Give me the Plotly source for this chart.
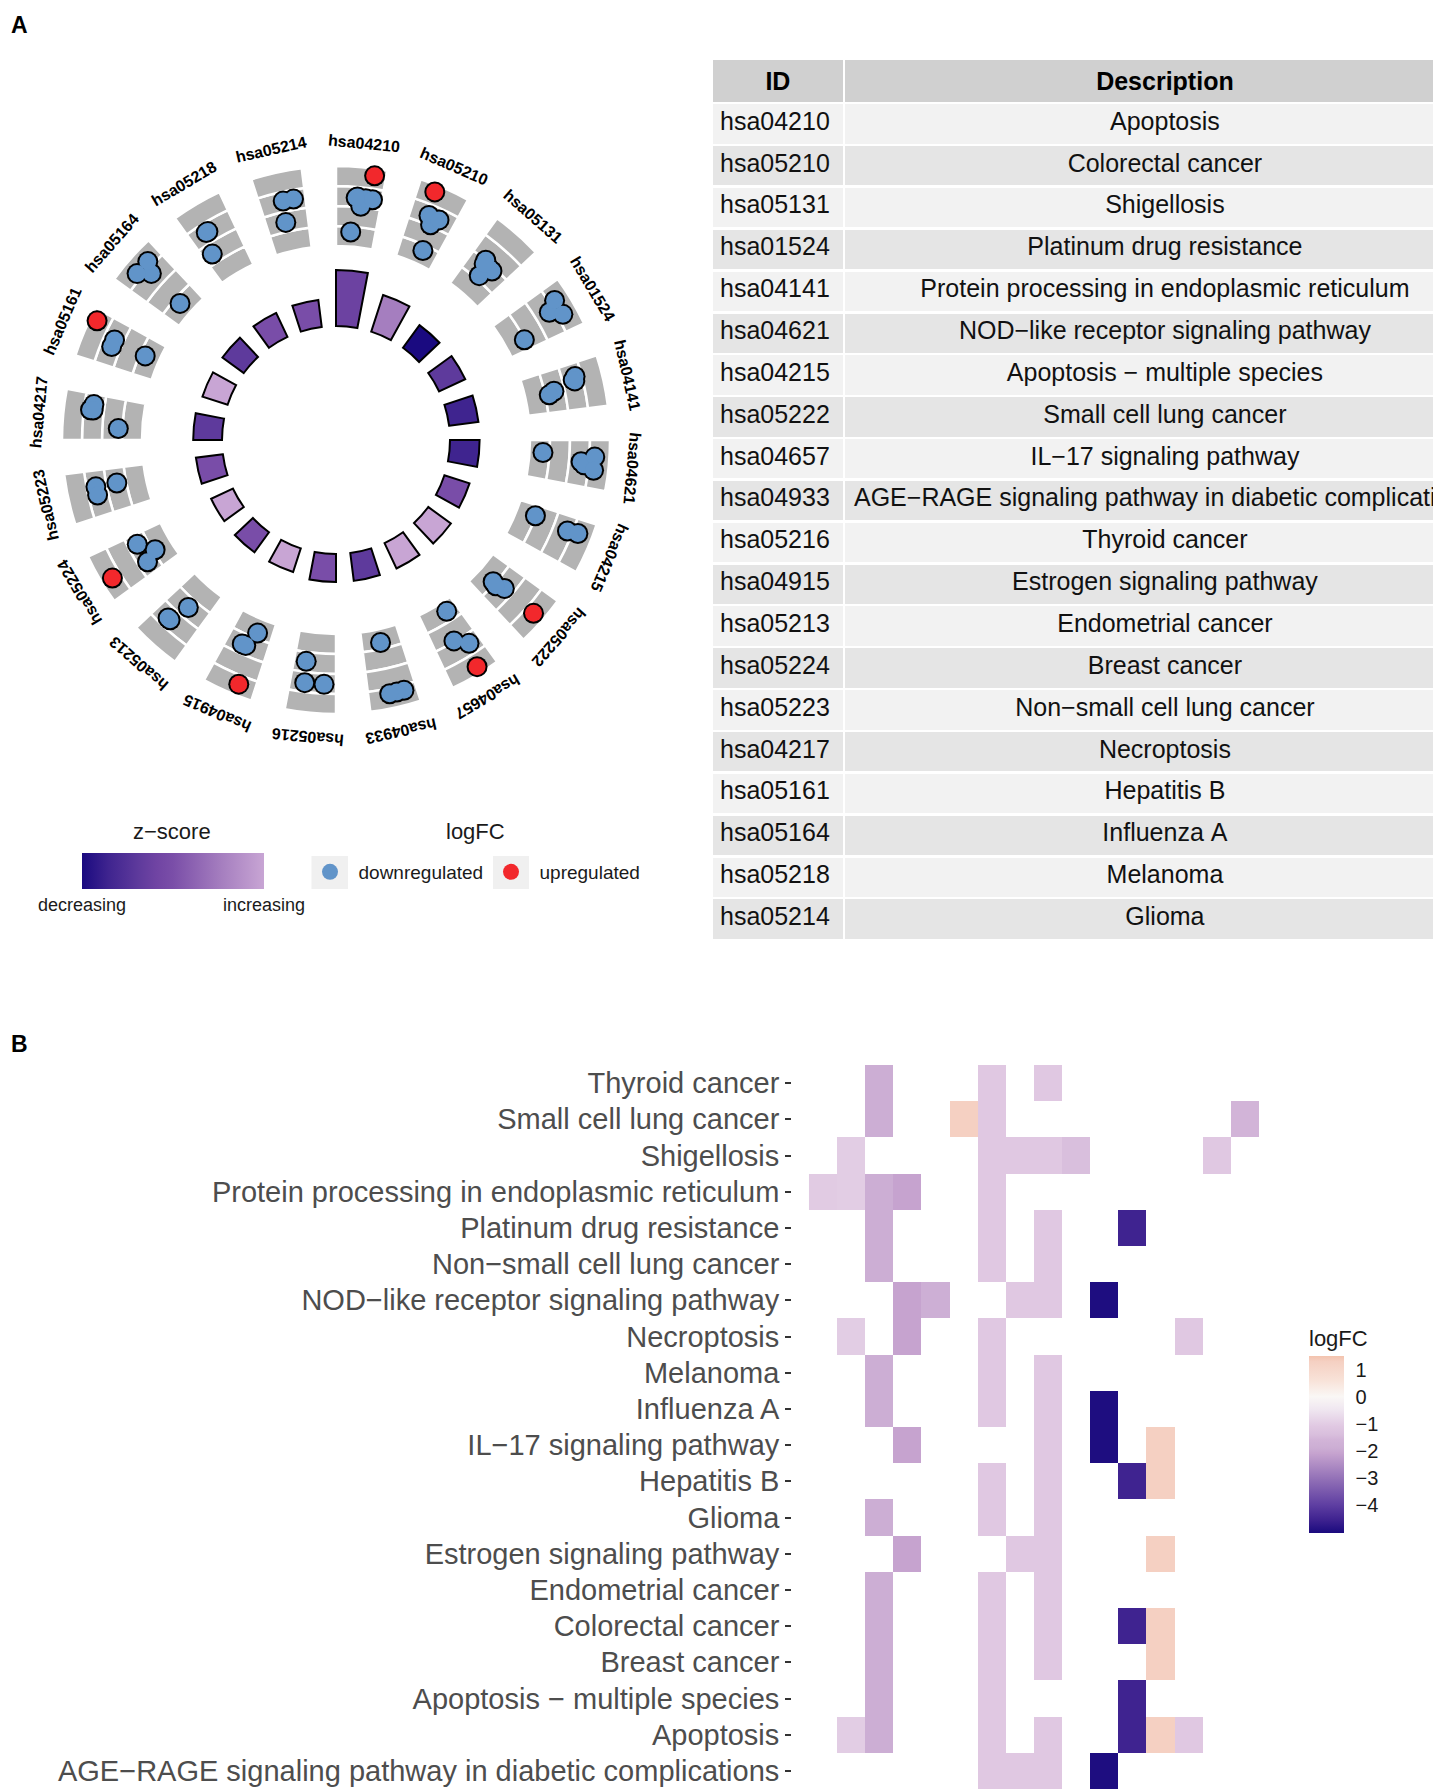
import math
import plotly.graph_objects as go

# figure is drawn in "screen" pixels of the 1441x1789 reference; the page adds an 8px body margin
WF, HF = 1500, 1820
OFF = 8
FONT = "Liberation Sans, Arial, sans-serif"


def sx(x):
    return (x - OFF) / WF


def sy(y):
    return 1 - (y - OFF) / HF


# ---------------- data ----------------
term_ids = ["hsa04210", "hsa05210", "hsa05131", "hsa01524", "hsa04141",
            "hsa04621", "hsa04215", "hsa05222", "hsa04657", "hsa04933",
            "hsa05216", "hsa04915", "hsa05213", "hsa05224", "hsa05223",
            "hsa04217", "hsa05161", "hsa05164", "hsa05218", "hsa05214"]
term_desc = ["Apoptosis", "Colorectal cancer", "Shigellosis",
             "Platinum drug resistance",
             "Protein processing in endoplasmic reticulum",
             "NOD\u2212like receptor signaling pathway",
             "Apoptosis \u2212 multiple species", "Small cell lung cancer",
             "IL\u221217 signaling pathway",
             "AGE\u2212RAGE signaling pathway in diabetic complications",
             "Thyroid cancer", "Estrogen signaling pathway",
             "Endometrial cancer", "Breast cancer",
             "Non\u2212small cell lung cancer", "Necroptosis", "Hepatitis B",
             "Influenza A", "Melanoma", "Glioma"]
# -log10(adjusted p-value) of each term (inner bar height)
neg_log10_padj = [4.6, 2.84, 1.8, 1.88, 1.96, 1.96, 1.64, 1.8, 1.8, 1.8,
                  1.8, 1.48, 1.48, 1.4, 1.72, 1.88, 1.64, 1.64, 1.64, 1.72]

gene_ids = ["G01", "G02", "G03", "G04", "G05", "G06", "G07", "G08",
            "G09", "G10", "G11", "G12", "G13", "G14", "G15", "G16"]
gene_logfc = [-1.05, -1.0, -1.9, -2.1, -1.85, 1.3, -1.1, -1.1,
              -1.1, -1.4, -5.0, -4.55, 1.3, -1.1, -1.1, -1.6]

# genes (index into gene_ids) belonging to each term
term_genes = [[1, 2, 6, 8, 11, 12, 13], [2, 6, 8, 11, 12], [1, 6, 7, 8, 9, 14],
              [2, 6, 8, 11], [0, 1, 2, 3, 6], [3, 4, 7, 8, 10], [2, 6, 11],
              [2, 5, 6, 15], [3, 8, 10, 12], [6, 7, 8, 10], [2, 6, 8],
              [3, 7, 8, 12], [2, 6, 8], [2, 6, 8, 12], [2, 6, 8],
              [1, 3, 6, 13], [6, 8, 11, 12], [2, 6, 8, 10], [2, 6, 8], [2, 6, 8]]
# angular position of each gene point inside its term sector (0..1)
point_pos = [[0.45, 0.6, 0.75, 1.0, 0.29, 0.95, 0.4], [0.55, 0.36, 0.76, 0.69, 0.24],
             [0.25, 0.4, 0.55, 0.7, 0.45, 0.3], [0.45, 0.2, 0.75, 0.9],
             [0.3, 0.15, 0.5, 0.6, 0.25], [0.45, 0.55, 0.25, 0.7, 0.2],
             [0.2, 0.15, 0.1], [0.6, 0.48, 0.5, 0.65], [0.53, 0.1, 0.15, 0.3],
             [0.1, 0.35, 0.6, 0.53], [0.85, 0.1, 0.8], [0.3, 0.7, 0.55, 0.24],
             [0.5, 0.8, 0.7], [0.4, 0.95, 0.15, 0.33], [0.73, 0.74, 0.44],
             [0.75, 0.13, 0.95, 0.75], [0.64, 0.38, 0.56, 0.98],
             [0.6, 0.27, 0.82, 0.47], [0.03, 0.28, 0.35], [0.44, 0.52, 0.9]]

heat_rows = ["AGE\u2212RAGE signaling pathway in diabetic complications",
             "Apoptosis", "Apoptosis \u2212 multiple species", "Breast cancer",
             "Colorectal cancer", "Endometrial cancer",
             "Estrogen signaling pathway", "Glioma", "Hepatitis B",
             "IL\u221217 signaling pathway", "Influenza A", "Melanoma",
             "Necroptosis", "NOD\u2212like receptor signaling pathway",
             "Non\u2212small cell lung cancer", "Platinum drug resistance",
             "Protein processing in endoplasmic reticulum", "Shigellosis",
             "Small cell lung cancer", "Thyroid cancer"]

lfc_ticks = [1, 0, -1, -2, -3, -4]
lfc_ticktext = ["1", "0", "\u22121", "\u22122", "\u22123", "\u22124"]

# ---------------- derived (GOCircle rules) ----------------
N = len(term_ids)
slot = 360.0 / N
bar_w = (10.0 / N - 0.2) * 36.0
pad = 0.06 * 36.0
rad1, rad2 = 2.0, 3.0
centers = [i * slot + bar_w / 2 for i in range(N)]

lo_p = round(min(neg_log10_padj)) - 2
hi_p = round(max(neg_log10_padj)) + 2
bar_h = [(v - lo_p) / (hi_p - lo_p) for v in neg_log10_padj]

zscore = []
for genes in term_genes:
    up = sum(1 for g in genes if gene_logfc[g] > 0)
    dn = sum(1 for g in genes if gene_logfc[g] < 0)
    zscore.append((up - dn) / len(genes) ** 0.5)

pt_theta, pt_r, pt_up = [], [], []
for i, genes in enumerate(term_genes):
    vals = [gene_logfc[g] for g in genes]
    lo = round(min(vals)) - 1
    hi = round(max(vals)) + 1
    for g, f in zip(genes, point_pos[i]):
        v = gene_logfc[g]
        pt_r.append(rad2 + (v - lo) / (hi - lo))
        pt_theta.append(i * slot + pad + f * (bar_w - 2 * pad))
        pt_up.append(v > 0)

# ---------------- figure ----------------
fig = go.Figure()

cx, cy, R = 336.0, 440.0, 326.0
r0 = 0.575
r1 = r0 + R / 80.0

zcols = [[0.0, "#1a0a80"], [0.145, "#3f248f"], [0.31, "#5e3a9c"],
         [0.41, "#7044a3"], [0.5, "#7a4ea8"], [0.765, "#a57ebf"],
         [1.0, "#c8a5d4"]]

# grey gene tracks
g_theta, g_base = [], []
for c in centers:
    for k in range(4):
        g_theta.append(c)
        g_base.append(rad2 + 0.25 * k)
fig.add_trace(go.Barpolar(theta=g_theta, r=[0.25] * len(g_theta), base=g_base,
                          width=bar_w, marker=dict(color="#b3b3b3",
                          line=dict(color="white", width=2.5)),
                          showlegend=False, hoverinfo="skip"))
# z-score bars
fig.add_trace(go.Barpolar(theta=centers, r=bar_h, base=rad1, width=bar_w,
                          marker=dict(color=zscore, colorscale=zcols,
                                      cmin=min(zscore), cmax=max(zscore),
                                      line=dict(color="black", width=2),
                                      showscale=True,
                                      colorbar=dict(orientation="h",
                                                    x=sx(173), xanchor="center",
                                                    y=sy(853), yanchor="top",
                                                    len=182, lenmode="pixels",
                                                    thickness=36, outlinewidth=0,
                                                    xpad=0, ypad=0,
                                                    tickvals=[min(zscore), max(zscore)],
                                                    ticktext=["decreasing", "increasing"],
                                                    ticks="inside", ticklen=5,
                                                    tickcolor="white",
                                                    tickfont=dict(size=18, color="#1a1a1a"))),
                          showlegend=False))
# points: black rings then coloured fill
fig.add_trace(go.Scatterpolar(theta=pt_theta, r=pt_r, mode="markers",
                              marker=dict(color="black", size=21),
                              showlegend=False, hoverinfo="skip"))
dn_t = [t for t, u in zip(pt_theta, pt_up) if not u]
dn_r = [r for r, u in zip(pt_r, pt_up) if not u]
up_t = [t for t, u in zip(pt_theta, pt_up) if u]
up_r = [r for r, u in zip(pt_r, pt_up) if u]
fig.add_trace(go.Scatterpolar(theta=dn_t, r=dn_r, mode="markers", name="downregulated",
                              marker=dict(color="#6194c9", size=17)))
fig.add_trace(go.Scatterpolar(theta=up_t, r=up_r, mode="markers", name="upregulated",
                              marker=dict(color="#f2282c", size=17)))

# heatmap
zmat = []
for desc in heat_rows:
    ti = term_desc.index(desc)
    row = [None] * len(gene_ids)
    for g in term_genes[ti]:
        row[g] = gene_logfc[g]
    zmat.append(row)

lfc_cols = [[0.0, "#1a0a7e"], [0.0763, "#3f2390"], [0.160, "#5f3fa2"],
            [0.313, "#9573b8"], [0.450, "#c6a3cf"], [0.481, "#ccaed4"],
            [0.527, "#d2b4d8"], [0.557, "#d9bfdd"], [0.603, "#e0c8e2"],
            [0.695, "#efe6f0"], [0.771, "#faf7f5"], [0.863, "#f8e2d8"],
            [0.969, "#f5d0c2"], [1.0, "#f3c3ae"]]
fig.add_trace(go.Heatmap(x=gene_ids, y=heat_rows, z=zmat, colorscale=lfc_cols,
                         zmin=-5.05, zmax=1.5, xaxis="x", yaxis="y",
                         hoverongaps=False,
                         colorbar=dict(x=sx(1309), xanchor="left",
                                       y=sy(1533), yanchor="bottom",
                                       len=207, lenmode="pixels", thickness=35,
                                       outlinewidth=0, xpad=0, ypad=0,
                                       title=dict(text="logFC", side="top",
                                                  font=dict(size=22, color="#1a1a1a")),
                                       tickvals=lfc_ticks, ticktext=lfc_ticktext,
                                       ticks="outside", ticklen=8, tickcolor="white",
                                       tickfont=dict(size=20, color="#1a1a1a"))))

# table
n_rows = len(term_ids)
row_fill = ["#f2f2f2" if k % 2 == 0 else "#e5e5e5" for k in range(n_rows)]
desc_cells = [d.replace(" ", "\u00a0") for d in term_desc]
fig.add_trace(go.Table(
    domain=dict(x=[sx(712), sx(1487)], y=[sy(945), sy(59)]),
    columnwidth=[132, 643],
    header=dict(values=["<b>ID</b>", "<b>Description</b>"],
                fill_color="#d0d0d0", line=dict(color="white", width=2.5),
                align=["center", "center"], height=40,
                font=dict(size=25, color="black", family=FONT)),
    cells=dict(values=[term_ids, desc_cells],
               fill_color=[row_fill, row_fill],
               line=dict(color="white", width=2.5),
               align=["left", "center"], height=41.85,
               font=dict(size=25, color="#111111", family=FONT))))

annotations = []
rp = (4.3 - r0) / (r1 - r0) * R
for i, tid in enumerate(term_ids):
    th = math.radians(centers[i])
    px = cx + rp * math.sin(th)
    py = cy - rp * math.cos(th)
    annotations.append(dict(x=sx(px), y=sy(py), xref="paper", yref="paper",
                            text="<b>%s</b>" % tid, showarrow=False,
                            textangle=centers[i], xanchor="center", yanchor="middle",
                            font=dict(size=16, color="black", family=FONT)))
annotations += [
    dict(x=sx(8.5), y=sy(10), text="<b>A</b>", showarrow=False, xref="paper",
         yref="paper", xanchor="left", yanchor="top",
         font=dict(size=23, color="black")),
    dict(x=sx(8.5), y=sy(1044), text="<b>B</b>", showarrow=False, xref="paper",
         yref="paper", xanchor="left", yanchor="middle",
         font=dict(size=23, color="black")),
    dict(x=sx(172), y=sy(832), text="z\u2212score", showarrow=False, xref="paper",
         yref="paper", xanchor="center", yanchor="middle",
         font=dict(size=22, color="#1a1a1a")),
    dict(x=sx(475), y=sy(832), text="logFC", showarrow=False, xref="paper",
         yref="paper", xanchor="center", yanchor="middle",
         font=dict(size=22, color="#1a1a1a")),
]

shapes = [dict(type="rect", xref="paper", yref="paper", x0=sx(311.5), x1=sx(348),
               y0=sy(889), y1=sy(856), fillcolor="#f0f0f0", line=dict(width=0),
               layer="below"),
          dict(type="rect", xref="paper", yref="paper", x0=sx(493), x1=sx(529),
               y0=sy(889), y1=sy(856), fillcolor="#f0f0f0", line=dict(width=0),
               layer="below")]

col_px, row_px, expand = 28.12, 36.2, 0.6
x_left = 809 - expand * col_px
y_top = 1065 - expand * row_px
nx, ny = len(gene_ids), len(heat_rows)

fig.update_layout(
    width=WF, height=HF, margin=dict(l=0, r=0, t=0, b=0),
    paper_bgcolor="white", plot_bgcolor="white",
    font=dict(family=FONT),
    polar=dict(domain=dict(x=[sx(cx - R), sx(cx + R)],
                           y=[sy(cy + R), sy(cy - R)]),
               bgcolor="rgba(0,0,0,0)", barmode="overlay",
               radialaxis=dict(range=[r0, r1], visible=False),
               angularaxis=dict(rotation=90, direction="clockwise", visible=False)),
    xaxis=dict(domain=[sx(x_left), sx(x_left + (nx + 2 * expand) * col_px)],
               range=[-0.5 - expand, nx - 0.5 + expand],
               showticklabels=False, ticks="", showgrid=False, zeroline=False,
               anchor="y"),
    yaxis=dict(domain=[sy(y_top + (ny + 2 * expand) * row_px), sy(y_top)],
               range=[-0.5 - expand, ny - 0.5 + expand],
               type="category", categoryorder="array", categoryarray=heat_rows,
               ticks="outside", ticklen=6, tickcolor="#333333", tickwidth=1.5,
               showgrid=False, zeroline=False, showline=False,
               tickfont=dict(size=29, color="#4d4d4d"), anchor="x"),
    legend=dict(orientation="h", x=sx(301.5), xanchor="left", y=sy(872),
                yanchor="middle", font=dict(size=19, color="#1a1a1a"),
                bgcolor="rgba(0,0,0,0)", itemwidth=47,
                entrywidth=119, entrywidthmode="pixels"),
    annotations=annotations, shapes=shapes,
)

fig.write_html("out.html")
